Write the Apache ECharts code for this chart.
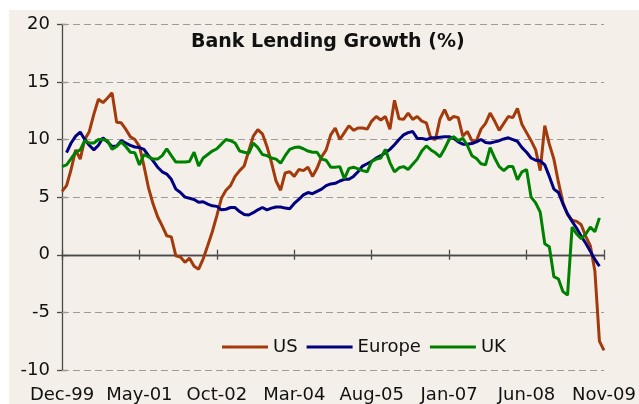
<!DOCTYPE html>
<html>
<head>
<meta charset="utf-8">
<script src="https://cdn.jsdelivr.net/npm/echarts@6/dist/echarts.min.js"></script>
<style>
html,body{margin:0;padding:0;background:#ffffff;width:639px;height:404px;overflow:hidden;}
#bg{position:absolute;left:9px;top:10px;width:630px;height:394px;background:#F4F0E9;}
#main{position:absolute;left:0;top:0;width:639px;height:404px;}
</style>
</head>
<body>
<div id="bg"></div>
<div id="main"></div>
<script>
// Monthly categories Dec-99 .. Nov-09
const monthNames = ['Jan','Feb','Mar','Apr','May','Jun','Jul','Aug','Sep','Oct','Nov','Dec'];
const categories = [];
for (let k = 0; k < 120; k++) {
  const m = (11 + k) % 12;
  const y = 1999 + Math.floor((11 + k) / 12);
  categories.push(monthNames[m] + '-' + String(y % 100).padStart(2, '0'));
}

const usData = [
  5.5, 6.0, 7.4, 9.1, 8.3, 10.0, 10.7, 12.2, 13.5, 13.2,
  13.6, 14.05, 11.5, 11.45, 10.9, 10.25, 10.0, 9.4, 7.7, 5.8,
  4.4, 3.3, 2.5, 1.65, 1.55, -0.1, -0.2, -0.65, -0.3, -1.0,
  -1.25, -0.35, 0.8, 2.0, 3.4, 4.9, 5.6, 6.0, 6.8, 7.3,
  7.7, 9.0, 10.3, 10.85, 10.5, 9.4, 8.0, 6.4, 5.6, 7.1,
  7.2, 6.8, 7.4, 7.3, 7.6, 6.8, 7.5, 8.5, 9.1, 10.4,
  11.0, 10.0, 10.6, 11.2, 10.8, 11.0, 11.0, 10.9, 11.6, 12.0,
  11.7, 12.0, 10.9, 13.4, 11.8, 11.75, 12.3, 11.75, 12.0, 11.6,
  11.45, 10.1, 10.0, 11.8, 12.6, 11.7, 12.0, 11.9, 10.3, 10.7,
  9.9, 9.9, 10.9, 11.4, 12.3, 11.6, 10.8, 11.4, 12.0, 11.9,
  12.7, 11.3, 10.6, 9.9, 9.1, 7.3, 11.2, 9.6, 8.3, 6.3,
  4.5, 3.5, 3.0, 2.9, 2.6, 1.6, 0.8, -1.4, -7.5, -8.3
];

const europeData = [
  null, 8.87, 9.7, 10.3, 10.65, 10.0, 9.5, 9.1, 9.5, 10.15,
  9.8, 9.4, 9.45, 9.9, 9.7, 9.5, 9.35, 9.3, 9.15, 8.6,
  8.15, 7.6, 7.2, 7.0, 6.55, 5.7, 5.4, 5.0, 4.9, 4.8,
  4.55, 4.6, 4.4, 4.25, 4.2, 3.9, 3.95, 4.1, 4.1, 3.75,
  3.5, 3.45, 3.65, 3.9, 4.1, 3.9, 4.05, 4.15, 4.15, 4.05,
  4.0, 4.45, 4.8, 5.2, 5.4, 5.3, 5.5, 5.7, 6.0, 6.15,
  6.2, 6.4, 6.55, 6.55, 6.8, 7.2, 7.7, 7.9, 8.1, 8.4,
  8.6, 8.85, 9.15, 9.55, 10.0, 10.4, 10.6, 10.7, 10.1, 10.1,
  10.0, 10.15, 10.15, 10.2, 10.25, 10.25, 10.1, 9.8, 9.6, 9.6,
  9.65, 9.8, 10.0, 9.75, 9.7, 9.8, 9.9, 10.05, 10.15, 10.0,
  9.85, 9.3, 8.9, 8.4, 8.2, 8.15, 7.8, 6.8, 5.7, 5.4,
  4.4, 3.55, 2.9, 2.3, 1.6, 1.0, 0.3, -0.4, -1.0, null
];

const ukData = [
  7.65, 7.8, 8.35, 8.9, 9.1, 9.9, 9.7, 9.7, 10.0, 10.0,
  9.9, 9.15, 9.4, 9.8, 9.4, 8.9, 8.85, 7.8, 8.7, 8.5,
  8.3, 8.3, 8.6, 9.2, 8.6, 8.05, 8.05, 8.05, 8.1, 8.9,
  7.7, 8.4, 8.7, 9.0, 9.2, 9.6, 10.0, 9.9, 9.7, 9.0,
  8.9, 8.8, 9.7, 9.3, 8.7, 8.6, 8.4, 8.3, 7.95, 8.6,
  9.15, 9.3, 9.35, 9.2, 9.0, 8.9, 8.9, 8.3, 8.2, 7.6,
  7.6, 7.65, 6.6, 7.5, 7.6, 7.45, 7.3, 7.2, 8.1, 8.3,
  8.4, 9.15, 8.0, 7.2, 7.55, 7.65, 7.4, 7.85, 8.3, 9.0,
  9.45, 9.1, 8.85, 8.5, 9.2, 10.0, 10.25, 9.9, 10.1, 9.5,
  8.6, 8.35, 7.9, 7.8, 9.3, 8.4, 7.65, 7.3, 7.65, 7.65,
  6.5, 7.2, 7.4, 5.0, 4.5, 3.7, 0.95, 0.7, -1.9, -2.1,
  -3.2, -3.5, 2.4, 1.8, 1.4, 1.8, 2.4, 2.0, 3.2, null
];

const yTicks = { min: -10, max: 20, interval: 5 };
const gridValues = [20, 15, 10, 5, -5, -10];
const titleText = 'Bank Lending Growth (%)';
const seriesNames = ['US', 'Europe', 'UK'];
const seriesColors = ['#A33A0C', '#000080', '#008000'];

const FONT = 'DejaVu Sans';
const AXIS_COLOR = '#4a4a4a';

const chart = echarts.init(document.getElementById('main'), null, { renderer: 'canvas' });

const xBase = {
  type: 'category',
  data: categories,
  boundaryGap: false,
  gridIndex: 0
};

chart.setOption({
  animation: false,
  backgroundColor: 'transparent',
  title: {
    text: titleText,
    left: 191,
    top: 33,
    padding: 0,
    textStyle: { fontFamily: FONT, fontSize: 19, fontWeight: 'bold', color: '#111' }
  },
  legend: {
    data: seriesNames.map(n => ({ name: n, icon: 'rect' })),
    left: 222,
    top: 337,
    padding: 0,
    itemWidth: 46,
    itemHeight: 3,
    itemGap: 9,
    textStyle: { fontFamily: FONT, fontSize: 18, color: '#111', lineHeight: 20 }
  },
  grid: { left: 62, right: 35, top: 24.3, bottom: 32.3, containLabel: false },
  xAxis: [
    Object.assign({}, xBase, {
      position: 'bottom',
      axisLine: { show: true, onZero: true, onZeroAxisIndex: 0, lineStyle: { color: AXIS_COLOR, width: 1.3 } },
      axisTick: { show: true, interval: 16, length: 5, inside: false, lineStyle: { color: AXIS_COLOR, width: 1.3 } },
      axisLabel: { show: false },
      splitLine: { show: false }
    }),
    Object.assign({}, xBase, {
      position: 'bottom',
      axisLine: { show: true, onZero: true, onZeroAxisIndex: 1, lineStyle: { color: AXIS_COLOR, width: 1.3 } },
      axisTick: { show: true, interval: 16, length: 5, inside: true, lineStyle: { color: AXIS_COLOR, width: 1.3 } },
      axisLabel: { show: false },
      splitLine: { show: false }
    }),
    Object.assign({}, xBase, {
      position: 'bottom',
      axisLine: { show: false, onZero: false },
      axisTick: { show: false },
      axisLabel: { show: true, interval: 16, margin: 16, fontFamily: FONT, fontSize: 18, color: '#111' },
      splitLine: { show: false }
    })
  ],
  yAxis: [
    {
      type: 'value', position: 'left',
      min: yTicks.min, max: yTicks.max, interval: yTicks.interval,
      axisLine: { show: true, onZero: false, lineStyle: { color: AXIS_COLOR, width: 1.3 } },
      axisTick: { show: true, length: 5, inside: false, lineStyle: { color: AXIS_COLOR, width: 1.3 } },
      axisLabel: { show: true, margin: 12, fontFamily: FONT, fontSize: 18, color: '#111' },
      splitLine: { show: false }
    },
    {
      type: 'value', position: 'left',
      min: yTicks.min, max: yTicks.max, interval: yTicks.interval,
      axisLine: { show: false, onZero: false },
      axisTick: { show: true, length: 5, inside: true, lineStyle: { color: AXIS_COLOR, width: 1.3 } },
      axisLabel: { show: false },
      splitLine: { show: false }
    }
  ],
  series: [
    { name: 'grid', type: 'line', data: [], xAxisIndex: 0, yAxisIndex: 0, z: 1,
      silent: true, showSymbol: false, symbol: 'none',
      markLine: {
        silent: true, z: 1, animation: false,
        symbol: ['none', 'none'],
        label: { show: false },
        lineStyle: { color: '#9c9c9c', type: [7, 4], width: 1.2 },
        emphasis: { disabled: true },
        data: gridValues.map(v => ({ yAxis: v }))
      }
    },
    { name: seriesNames[0], type: 'line', data: usData, xAxisIndex: 0, yAxisIndex: 0,
      showSymbol: false, symbol: 'none', connectNulls: false, z: 3,
      lineStyle: { width: 3, color: seriesColors[0] }, itemStyle: { color: seriesColors[0] } },
    { name: seriesNames[1], type: 'line', data: europeData, xAxisIndex: 0, yAxisIndex: 0,
      showSymbol: false, symbol: 'none', connectNulls: false, z: 4,
      lineStyle: { width: 3, color: seriesColors[1] }, itemStyle: { color: seriesColors[1] } },
    { name: seriesNames[2], type: 'line', data: ukData, xAxisIndex: 0, yAxisIndex: 0,
      showSymbol: false, symbol: 'none', connectNulls: false, z: 5,
      lineStyle: { width: 3, color: seriesColors[2] }, itemStyle: { color: seriesColors[2] } }
  ]
});
</script>
</body>
</html>
